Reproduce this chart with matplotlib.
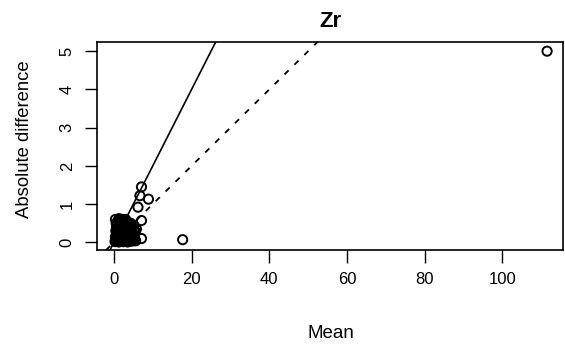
import matplotlib
matplotlib.use("Agg")
import matplotlib.pyplot as plt

plt.rcParams['font.family'] = ['Liberation Sans', 'DejaVu Sans']

# Bland-Altman style agreement plot for Zr: mean of duplicates vs absolute difference
mean_vals = [0.3, 0.5, 0.6, 0.8, 0.9, 1.0, 1.1, 1.2, 1.3, 1.4, 1.5, 1.6, 1.7, 1.8,
             1.9, 2.0, 2.1, 2.2, 2.3, 2.4, 2.5, 2.6, 2.7, 2.8, 2.9, 3.0, 3.1, 3.2,
             3.3, 3.4, 3.5, 3.6, 3.7, 3.8, 3.9, 4.0, 4.2, 4.3, 4.5, 4.6, 4.8, 5.0,
             5.1, 5.3, 5.5, 5.6, 5.8, 0.7, 1.0, 0.5, 0.4, 1.3, 2.0, 2.5, 1.1, 0.6,
             3.0, 0.4, 0.9, 1.6, 2.2, 2.9, 3.6, 4.1, 4.7, 5.2, 1.4, 2.6, 3.3, 4.4,
             0.8, 1.9, 3.8, 5.4, 2.4, 3.5, 4.9, 1.2, 0.5, 4.0,
             7.1, 6.7, 8.9, 6.2, 7.1, 7.1, 17.7, 111.5]
abs_diff = [0.02, 0.05, 0.12, 0.03, 0.20, 0.08, 0.35, 0.15, 0.01, 0.28, 0.45, 0.06,
            0.18, 0.52, 0.10, 0.30, 0.04, 0.22, 0.40, 0.13, 0.02, 0.33, 0.08, 0.55,
            0.19, 0.05, 0.42, 0.27, 0.11, 0.36, 0.01, 0.48, 0.16, 0.25, 0.07, 0.38,
            0.12, 0.50, 0.03, 0.30, 0.20, 0.09, 0.44, 0.15, 0.28, 0.04, 0.35, 0.40,
            0.55, 0.30, 0.60, 0.62, 0.60, 0.50, 0.50, 0.50, 0.60, 0.15, 0.45, 0.25,
            0.50, 0.35, 0.22, 0.45, 0.10, 0.32, 0.55, 0.14, 0.54, 0.25, 0.26, 0.38,
            0.33, 0.08, 0.02, 0.05, 0.22, 0.02, 0.06, 0.10,
            1.45, 1.22, 1.13, 0.92, 0.57, 0.10, 0.07, 5.00]

# Reference lines through the origin: 20% and 10% relative difference
slope_solid = 0.2
slope_dashed = 0.1

x_ticks = [0, 20, 40, 60, 80, 100]
y_ticks = [0, 1, 2, 3, 4, 5]

fig = plt.figure(figsize=(5.65, 3.47), dpi=100)
ax = fig.add_axes([97 / 565, 1 - 250 / 347, (563 - 97) / 565, (250 - 42) / 347])

ax.scatter(mean_vals, abs_diff, s=44, facecolors='none', edgecolors='black',
           linewidths=1.4, zorder=3)
ax.axline((0, 0), slope=slope_solid, color='black', lw=1.2, zorder=2)
ax.axline((0, 0), slope=slope_dashed, color='black', lw=1.3, ls=(0, (3.2, 4.5)),
          zorder=2)

ax.set_xlim(-4.35, 115.6)
ax.set_ylim(-0.2, 5.24)
ax.set_xticks(x_ticks)
ax.set_yticks(y_ticks)
ax.tick_params(direction='out', length=9, width=1, labelsize=12, pad=7,
               colors='black')
for lab in ax.get_yticklabels():
    lab.set_rotation(90)
    lab.set_va('center')
for sp in ax.spines.values():
    sp.set_linewidth(1.2)

fig.text(330 / 565, 1 - 27 / 347, 'Zr', ha='center', va='baseline',
         fontsize=16, fontweight='bold')
fig.text(331 / 565, 1 - 338 / 347, 'Mean', ha='center', va='baseline',
         fontsize=13.5)
fig.text(25 / 565, 1 - 139 / 347, 'Absolute difference', ha='center', va='center',
         rotation=90, fontsize=13.3)

fig.savefig('out.png', dpi=100)
